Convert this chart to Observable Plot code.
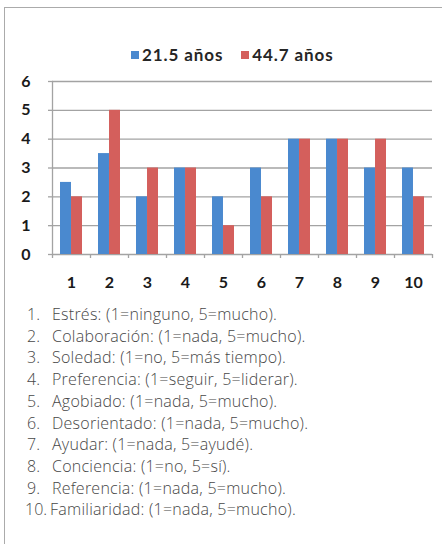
<!DOCTYPE html>
<html>
<head>
<meta charset="utf-8">
<script src="https://cdn.jsdelivr.net/npm/d3@7"></script>
<script src="https://cdn.jsdelivr.net/npm/@observablehq/plot@0.6"></script>
<style>
  html, body { margin: 0; padding: 0; background: #fff; }
  body { width: 442px; height: 544px; position: relative; overflow: hidden; }
  #frame { position: absolute; left: 4px; top: 7px; right: -5px; bottom: -5px;
           border-left: 1.5px solid #ababab; border-top: 1.5px solid #ababab; }
  #legend { position: absolute; left: 131px; top: 44px; display: flex; align-items: center;
            font-family: Lato, "Open Sans", sans-serif; font-weight: bold; font-size: 17px;
            letter-spacing: 0.9px; color: #262626; }
  #legend .item { display: flex; align-items: center; margin-right: 18px; }
  #legend .sw { width: 8px; height: 8px; margin-right: 3px; }
  #chart { position: absolute; left: 0; top: 66px; }
  #notes { position: absolute; left: 27px; top: 304px; font-family: "Open Sans", "Noto Sans", sans-serif;
           font-size: 16px; letter-spacing: 0.25px; color: #474747; line-height: 21.7px; font-weight: 300; }
  #notes .num { display: inline-block; min-width: 25px; letter-spacing: 0; }
  #notes .num.wide { min-width: 0; margin-left: -2px; margin-right: 3px; }
</style>
</head>
<body>
<div id="frame"></div>
<div id="legend"></div>
<div id="chart"></div>
<div id="notes"></div>
<script>
const categories = ["1", "2", "3", "4", "5", "6", "7", "8", "9", "10"];
const seriesNames = ["21.5 años", "44.7 años"];
const seriesColors = ["#4a89cf", "#d45f5c"];
const young = [2.5, 3.5, 2, 3, 2, 3, 4, 4, 3, 3];
const older = [2, 5, 3, 3, 1, 2, 4, 4, 4, 2];
const yTicks = [0, 1, 2, 3, 4, 5, 6];
const notes = [
  "Estrés: (1=ninguno, 5=mucho).",
  "Colaboración: (1=nada, 5=mucho).",
  "Soledad: (1=no, 5=más tiempo).",
  "Preferencia: (1=seguir, 5=liderar).",
  "Agobiado: (1=nada, 5=mucho).",
  "Desorientado: (1=nada, 5=mucho).",
  "Ayudar: (1=nada, 5=ayudé).",
  "Conciencia: (1=no, 5=sí).",
  "Referencia: (1=nada, 5=mucho).",
  "Familiaridad: (1=nada, 5=mucho)."
];

const rowsA = categories.map((c, i) => ({cat: c, value: young[i]}));
const rowsB = categories.map((c, i) => ({cat: c, value: older[i]}));

const W = 442, H = 233, mL = 52, mR = 10, mT = 15, mB = 45;
const pInner = 0.42, pOuter = 0.21;
const step = (W - mL - mR) / (categories.length - pInner + 2 * pOuter);
const bw = step * (1 - pInner);
const half = bw / 2;
const gridColor = "#a3a3a3";
const yMax = 6;
const tickLen = 4 * yMax / (H - mT - mB); // 4px expressed in y units

const axisFont = {fontFamily: "Lato, 'Open Sans', sans-serif", fontWeight: "bold", fontSize: 16, fill: "#1a1a1a"};

const chart = Plot.plot({
  width: W, height: H,
  marginLeft: mL, marginRight: mR, marginTop: mT, marginBottom: mB,
  style: {background: "transparent", overflow: "visible"},
  x: {domain: categories, paddingInner: pInner, paddingOuter: pOuter, axis: null},
  y: {domain: [0, yMax], axis: null},
  marks: [
    Plot.ruleY(yTicks, {stroke: gridColor, strokeWidth: 1.3}),
    Plot.barY(rowsA, {x: "cat", y: "value", fill: seriesColors[0], insetRight: half}),
    Plot.barY(rowsB, {x: "cat", y: "value", fill: seriesColors[1], insetLeft: half}),
    Plot.frame({anchor: "left", stroke: gridColor, strokeWidth: 1.3}),
    Plot.axisY({ticks: yTicks, tickSize: 4, tickPadding: 18, stroke: gridColor, strokeWidth: 1.3,
      tickFormat: d => d, ...axisFont, textAnchor: "end", label: null}),
    Plot.axisX({tickSize: 0, tickPadding: 22, ...axisFont, label: null}),
    // category boundary ticks below the baseline
    Plot.ruleX(categories, {x: d => d, y1: 0, y2: -tickLen, dx: -step / 2,
      stroke: gridColor, strokeWidth: 1.3}),
    Plot.ruleX([categories[categories.length - 1]], {x: d => d, y1: 0, y2: -tickLen, dx: step / 2,
      stroke: gridColor, strokeWidth: 1.3})
  ]
});
document.getElementById("chart").appendChild(chart);

const legend = document.getElementById("legend");
seriesNames.forEach((n, i) => {
  const it = document.createElement("div");
  it.className = "item";
  it.innerHTML = `<span class="sw" style="background:${seriesColors[i]}"></span><span>${n}</span>`;
  legend.appendChild(it);
});

const notesDiv = document.getElementById("notes");
notes.forEach((t, i) => {
  const line = document.createElement("div");
  const num = document.createElement("span");
  num.className = "num" + (i >= 9 ? " wide" : "");
  num.textContent = (i + 1) + ".";
  line.appendChild(num);
  line.appendChild(document.createTextNode(t));
  notesDiv.appendChild(line);
});
</script>
</body>
</html>
